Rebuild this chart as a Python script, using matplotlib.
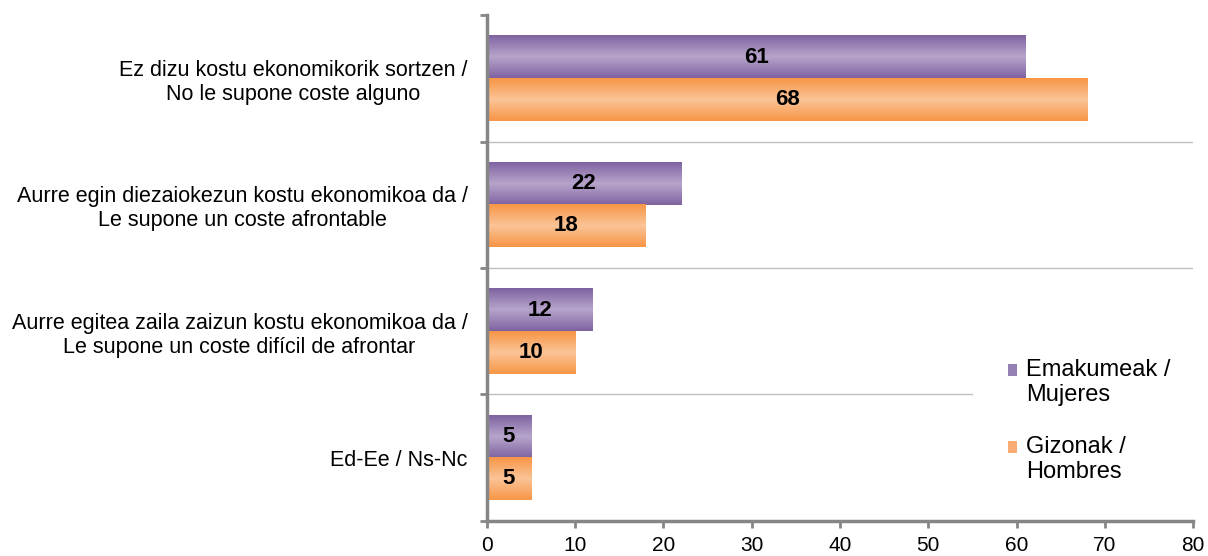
import numpy as np
import matplotlib.pyplot as plt
from matplotlib.colors import LinearSegmentedColormap
from matplotlib.patches import Patch

plt.rcParams['font.family'] = ['Liberation Sans', 'DejaVu Sans']

categories = ['Ez dizu kostu ekonomikorik sortzen /\nNo le supone coste alguno',
              'Aurre egin diezaiokezun kostu ekonomikoa da /\nLe supone un coste afrontable',
              'Aurre egitea zaila zaizun kostu ekonomikoa da /\nLe supone un coste difícil de afrontar',
              'Ed-Ee / Ns-Nc']
mujeres = [61, 22, 12, 5]
hombres = [68, 18, 10, 5]
series_names = ['Emakumeak /\nMujeres', 'Gizonak /\nHombres']

purple_edge, purple_mid = '#7f63a1', '#b6a4cb'
orange_edge, orange_mid = '#f79646', '#fbc396'

fig = plt.figure(figsize=(12.08, 5.56), dpi=100)
ax = fig.add_axes([0.4031, 0.063, 0.5845, 0.910])

n = len(categories)
y = np.arange(n)
h = 0.335

grad = np.concatenate([np.linspace(0, 1, 50), np.linspace(1, 0, 50)]).reshape(-1, 1)


def gradient_bars(ypos, vals, c_edge, c_mid):
    cmap = LinearSegmentedColormap.from_list('g', [c_edge, c_mid])
    bars = ax.barh(ypos, vals, height=h, color=c_mid, edgecolor='none')
    for b in bars:
        x0, y0 = b.get_x(), b.get_y()
        w, hh = b.get_width(), b.get_height()
        ax.imshow(grad, cmap=cmap, aspect='auto', extent=[x0, x0 + w, y0, y0 + hh],
                  origin='lower', zorder=2)
    return bars


b1 = gradient_bars(y - h / 2, mujeres, purple_edge, purple_mid)
b2 = gradient_bars(y + h / 2, hombres, orange_edge, orange_mid)

for bars, vals in [(b1, mujeres), (b2, hombres)]:
    for b, v in zip(bars, vals):
        ax.text(b.get_x() + b.get_width() / 2, b.get_y() + b.get_height() / 2, str(v),
                ha='center', va='center', fontsize=16, fontweight='bold', zorder=3)

ax.set_xlim(0, 80)
ax.set_ylim(n - 0.5, -0.5)
ax.set_xticks(range(0, 81, 10))
ax.set_yticks(y)
ax.set_yticklabels(categories, fontsize=15.5, ha='right', multialignment='center')
ax.tick_params(axis='y', length=0, pad=14)
ax.set_yticks(np.arange(-0.5, n, 1), minor=True)
ax.tick_params(axis='y', which='minor', length=5, width=2, color='#868686', direction='out')
ax.tick_params(axis='x', labelsize=15, length=5, width=2, color='#868686', direction='out', pad=6)

for yy in [0.5, 1.5]:
    ax.axhline(yy, color='#bfbfbf', lw=1, zorder=1)
ax.plot([0, 55], [2.5, 2.5], color='#bfbfbf', lw=1, zorder=1)

for s in ['top', 'right']:
    ax.spines[s].set_visible(False)
for s in ['left', 'bottom']:
    ax.spines[s].set_color('#868686')
    ax.spines[s].set_linewidth(2.5)

handles = [Patch(facecolor='#9580b3', edgecolor='none'),
           Patch(facecolor='#f9ad74', edgecolor='none')]
leg = ax.legend(handles, series_names, loc='upper left', bbox_to_anchor=(0.738, 0.320),
                frameon=False, fontsize=17, handlelength=0.4, handleheight=0.4,
                handletextpad=0.35, labelspacing=1.25, borderpad=0, borderaxespad=0)
for hnd in leg.legend_handles:
    hnd.set_y(hnd.get_y() + 9)

fig.savefig('out.png', dpi=100)
